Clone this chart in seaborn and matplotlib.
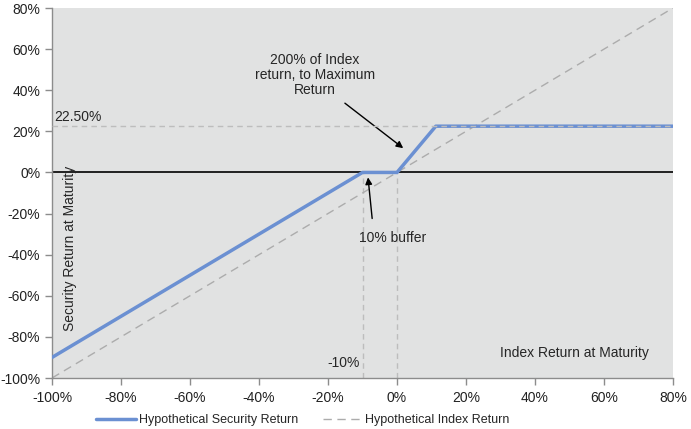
import matplotlib
matplotlib.use("Agg")
import matplotlib.pyplot as plt
import seaborn as sns
import pandas as pd
from matplotlib.ticker import FuncFormatter

sns.set_theme(style="white")
plt.rcParams['font.family'] = ['Liberation Sans', 'DejaVu Sans']

# Data
index_x = [-100, -10, 0, 11.25, 80]
security_y = [-90, 0, 0, 22.5, 22.5]
index_line_x = [-100, 80]
index_line_y = [-100, 80]
max_return = 22.5
buffer_level = -10
x_ticks = list(range(-100, 81, 20))
y_ticks = list(range(-100, 81, 20))

sec = pd.DataFrame({"x": index_x, "y": security_y})
idx = pd.DataFrame({"x": index_line_x, "y": index_line_y})

fig = plt.figure(figsize=(6.91, 4.29), dpi=100)
ax = fig.add_axes([52/691, 1-378/429, (673-52)/691, (378-8)/429])
ax.set_facecolor("#e1e2e2")

blue = "#6b90d2"
grey = "#acacac"

# reference lines
ax.plot([-100, 80], [max_return, max_return], ls=(0, (4, 3)), color="#bdbdbd", lw=1, zorder=4)
ax.plot([buffer_level, buffer_level], [-100, 0], ls=(0, (4, 3)), color="#bdbdbd", lw=1, zorder=2)
ax.plot([0, 0], [-100, 0], ls=(0, (4, 3)), color="#bdbdbd", lw=1, zorder=2)
ax.axhline(0, color="black", lw=1.2, zorder=2)

sns.lineplot(data=sec, x="x", y="y", sort=False, ax=ax, color=blue, lw=2.5,
             label="Hypothetical Security Return", zorder=3)
sns.lineplot(data=idx, x="x", y="y", sort=False, ax=ax, color=grey, lw=1,
             ls=(0, (6, 4)), label="Hypothetical Index Return", zorder=2.5)

ax.set_xlim(-100, 80)
ax.set_ylim(-100, 80)
ax.set_xticks(x_ticks)
ax.set_yticks(y_ticks)
fmt = FuncFormatter(lambda v, p: f"{int(v)}%")
ax.xaxis.set_major_formatter(fmt)
ax.yaxis.set_major_formatter(fmt)
ax.tick_params(axis="both", labelsize=10, colors="#222222", length=5, width=1,
               direction="out", color="#8c8c8c", bottom=True, left=True)
ax.tick_params(axis="x", pad=4)
for s in ["top", "right"]:
    ax.spines[s].set_visible(False)
for s in ["left", "bottom"]:
    ax.spines[s].set_color("#8c8c8c")
    ax.spines[s].set_linewidth(1)
ax.set_xlabel("")
ax.set_ylabel("")

ax.text(-94.8, -37, "Security Return at Maturity", rotation=90, ha="center", va="center", fontsize=10)
ax.text(51.3, -87.8, "Index Return at Maturity", ha="center", va="center", fontsize=10)
ax.text(-10.8, -92.6, "-10%", ha="right", va="center", fontsize=10)
ax.text(-99.3, 23.8, "22.50%", ha="left", va="bottom", fontsize=10)
ax.text(-23.8, 47.5, "200% of Index\nreturn, to Maximum\nReturn", ha="center", va="center",
        fontsize=10, linespacing=1.1)
ax.annotate("", xy=(1.8, 11.8), xytext=(-15.1, 33.7),
            arrowprops=dict(arrowstyle="-|>", color="black", lw=1, mutation_scale=10,
                            shrinkA=0, shrinkB=0))
ax.annotate("", xy=(-8.4, -2.4), xytext=(-7.2, -22.4),
            arrowprops=dict(arrowstyle="-|>", color="black", lw=1, mutation_scale=10,
                            shrinkA=0, shrinkB=0))
ax.text(-1.4, -31.7, "10% buffer", ha="center", va="center", fontsize=10)

ax.get_legend().remove()
handles, labels = ax.get_legend_handles_labels()
fig.legend(handles, labels, loc="center", bbox_to_anchor=(303/691, 1-420/429), ncol=2,
           frameon=False, fontsize=9, handlelength=3.2, columnspacing=2.0, handletextpad=0.2)

fig.savefig("out.png", dpi=100)
